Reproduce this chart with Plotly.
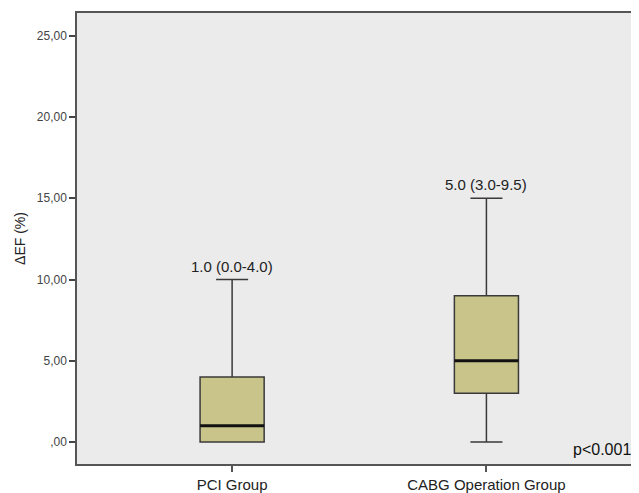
import plotly.graph_objects as go

groups = ["PCI Group", "CABG Operation Group"]
positions = [0, 1]
lower = [0.0, 0.0]
q1 = [0.0, 3.0]
median = [1.0, 5.0]
q3 = [4.0, 9.0]
upper = [10.0, 15.0]
labels = ["1.0 (0.0-4.0)", "5.0 (3.0-9.5)"]
ytickvals = [0, 5, 10, 15, 20, 25]
yticktext = [",00", "5,00", "10,00", "15,00", "20,00", "25,00"]
p_text = "p<0.001"

BOXW = 0.252
fill = "#c9c58a"
edge = "#3a3a3a"

fig = go.Figure()
fig.add_trace(go.Box(
    x=positions, q1=q1, median=median, q3=q3,
    lowerfence=lower, upperfence=upper,
    width=BOXW, whiskerwidth=0.5,
    fillcolor=fill, line=dict(color=edge, width=1.5),
    boxpoints=False, hoverinfo="skip", showlegend=False,
))
for p, m in zip(positions, median):
    fig.add_trace(go.Scatter(
        x=[p - BOXW / 2, p + BOXW / 2], y=[m, m], mode="lines",
        line=dict(color="#111111", width=3), showlegend=False, hoverinfo="skip",
    ))

font = "Liberation Sans, Arial, sans-serif"
for p, u, t in zip(positions, upper, labels):
    fig.add_annotation(x=p, y=u, text=t, showarrow=False, yanchor="bottom",
                       yshift=3, font=dict(size=15, color="#222", family=font))
fig.add_annotation(x=0.99, xref="paper", y=-0.45, yref="y", text=p_text,
                   showarrow=False, xanchor="right", yanchor="middle",
                   font=dict(size=16, color="#111", family=font))

fig.update_layout(
    width=631, height=485,
    margin=dict(l=69, r=0, t=5, b=20),
    paper_bgcolor="white", plot_bgcolor="#ebebeb",
    font=dict(family=font, color="#333"),
    xaxis=dict(range=[-0.61, 1.6], tickvals=positions, ticktext=groups,
               showgrid=False, zeroline=False, showline=True, mirror=True,
               linecolor="#555", linewidth=1.5, ticks="outside", ticklen=6,
               tickcolor="#555", tickwidth=1.5, tickfont=dict(size=15, color="#222")),
    yaxis=dict(range=[-1.35, 26.4], tickvals=ytickvals, ticktext=yticktext,
               showgrid=False, zeroline=False, showline=True,
               linecolor="#555", linewidth=1.5, ticks="outside", ticklen=6,
               tickcolor="#444", tickwidth=1.5, tickfont=dict(size=12, color="#444"),
               title=dict(text="ΔEF (%)", font=dict(size=14, color="#222"), standoff=8)),
)
fig.write_html("out.html")
